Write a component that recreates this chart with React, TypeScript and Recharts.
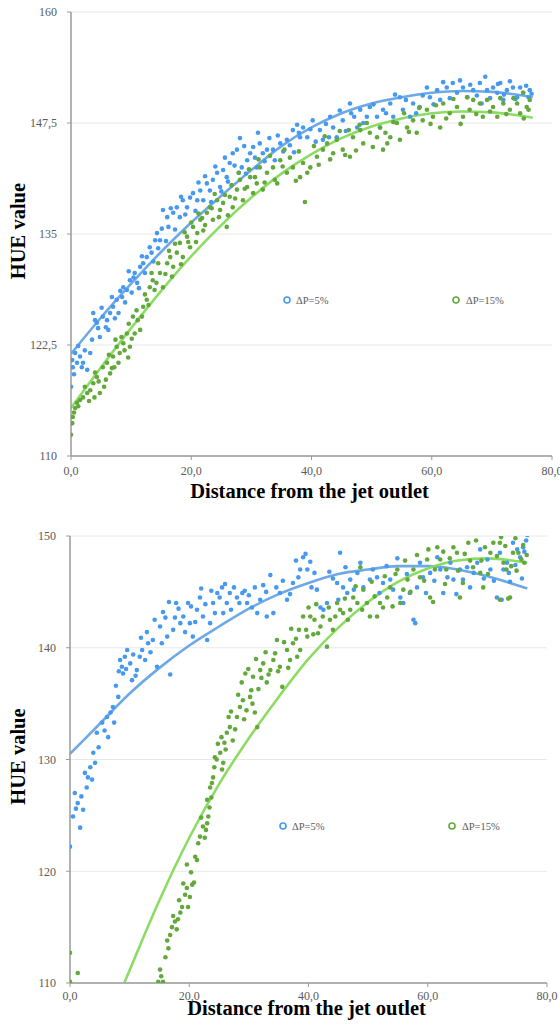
import React from 'react';
import { ComposedChart, Scatter, Line, XAxis, YAxis, CartesianGrid, Legend } from 'recharts';

const BLUE_DOT = '#4699ee';
const BLUE_LINE = '#5ea0e4';
const GREEN_DOT = '#62a83b';
const GREEN_LINE = '#86da5b';

const xTicks = [0, 20, 40, 60, 80];
const topYTicks = [110, 122.5, 135, 147.5, 160];
const botYTicks = [110, 120, 130, 140, 150];
const seriesNames = ['ΔP=5%', 'ΔP=15%'];
const xTitle = 'Distance from the jet outlet';
const yTitle = 'HUE value';

// ---- Top panel scatter ----
const top5: [number, number][] = [
  [0, 117.8], [0.2, 120.8], [0.3, 120.0], [0.7, 121.6], [1, 120.5], [1.5, 121.2], [1.8, 120.0], [2, 120.5], [2.7, 119.7], [3.2, 121.6],
  [3.7, 126.1], [4, 125.3], [4.3, 125], [4.8, 123.4], [5.3, 125.7], [6, 125.3], [6.5, 126.1], [6.2, 124.2], [7, 126.8], [7.6, 127.6],
  [7.9, 126.1], [8.5, 127.9], [8.7, 129.0], [9.3, 128.7], [9.8, 129.8], [10.1, 128.4], [10.6, 130.6], [11, 129.5], [11.5, 131.3], [12, 131.7],
  [12.6, 132.4], [13.1, 133.5], [13.4, 132.9], [14, 134.3], [14.3, 135.1], [14.8, 134.3], [15.3, 137.7], [16, 136.9], [16.2, 135.8], [17, 137.4],
  [17.6, 138], [18.1, 136.9], [18.6, 138.8], [19.3, 138], [20.3, 139.6], [21, 138.8], [21.5, 139.9], [22, 138.8], [22.6, 140.7], [23.1, 139.9],
  [23.6, 141.1], [24.3, 141.9], [24.8, 140.3], [25.3, 142.2], [25.9, 141.4], [26.4, 143], [26.9, 144.1], [27.6, 144.5], [28.1, 145.8], [28.4, 142.5],
  [29.3, 143.3], [29.8, 144.1], [30.3, 144.8], [30.9, 142.5], [31.4, 145.2], [31.9, 144.1], [32.6, 144.5], [33.6, 144.5], [34.8, 145.2], [35.9, 145.6],
  [36.9, 146.7], [38.1, 145.9], [38.6, 147.0], [37.6, 147.3], [39.3, 145.9], [40.2, 147.8], [41.4, 146.7], [41.9, 145.6], [43.1, 148.2], [43.6, 147],
  [44.2, 145.9], [45.2, 147.8], [46.4, 149.7], [46.6, 148.6], [47.6, 147], [48.1, 149], [49.2, 148.2], [49.7, 149.3], [50.9, 148.2], [51.4, 147],
  [51.9, 149], [53.1, 149.7], [53.6, 148.2], [54.7, 150.4], [55.2, 149], [56.4, 148.2], [56.9, 149.7], [58, 149.3], [59.2, 151.5], [59.7, 150.4],
  [60.9, 151.2], [61.4, 150.1], [62.5, 151.5], [63.5, 152], [64.2, 150.9], [65.2, 151.5], [65.9, 150.4], [66.9, 151.2], [68, 152], [68.9, 152.7],
  [69.2, 151.2], [70.2, 151.5], [70.9, 150.9], [71.4, 152], [72.5, 151.2], [73.5, 151.5], [74.2, 150.4], [74.7, 151.5], [75.2, 150.9], [76.3, 151.2],
  [76.1, 150.4], [71.9, 150.1], [68.3, 149.7],
  [0.5, 119.2], [1.2, 122.4], [2.3, 121.9], [3.5, 123.1], [4.5, 124.4], [5.1, 126.7], [5.8, 124.5], [6.8, 127.9], [7.3, 125.5], [8.2, 128.6],
  [9, 127.3], [9.6, 130.8], [10.4, 130.1], [11.3, 128.9], [11.8, 132.5], [12.3, 130.6], [13.7, 131.9], [14.5, 133.4], [15.1, 135.6], [15.8, 134.2],
  [16.6, 137.9], [17.3, 135.5], [18.3, 139.2], [19, 137.2], [19.8, 139.1], [20.7, 137.6], [21.2, 140.8], [22.3, 141.5], [23.3, 138.6], [24, 142.6],
  [25, 139.8], [25.6, 143.6], [26.1, 140.9], [27.2, 142.7], [27.9, 141.9], [28.8, 144.9], [29.1, 141.8], [30.6, 143.6], [31.1, 146.4], [32.2, 143.2],
  [33, 145.8], [33.9, 143.3], [34.4, 146.1], [35.3, 144.3], [36.4, 145], [37.1, 144.2], [37.9, 146.4], [39.8, 146.8], [40.7, 145.4], [42.4, 147.4],
  [42.9, 145.9], [44.7, 148.9], [45.7, 146.6], [47.1, 148.2], [48.6, 147.5], [50.3, 149.6], [52.4, 148.6], [53.9, 150.7], [55.7, 150.1], [57.4, 148.6],
  [58.5, 150.6], [60.3, 149.6], [61.9, 152.1], [63, 150.3], [64.7, 152.3], [66.4, 151.8], [67.5, 150.6], [69.7, 150.3], [71, 151.9], [72, 150.7],
  [73, 152.2], [73.9, 150.2], [75.7, 151.7], [76.6, 150.8],
];

const top15: [number, number][] = [
  [0, 112.4], [0.2, 113.7], [0.3, 114.4], [0.7, 115.4], [1, 116], [1.5, 116.3], [2, 116.6], [2.7, 117.1], [3.2, 117.4], [3.7, 118.2],
  [3.9, 116.6], [4.3, 118.9], [4.8, 117.1], [5.3, 120], [5.5, 117.8], [6, 120.5], [6.5, 119.3], [7, 121.2], [7.2, 120], [7.6, 122.3],
  [7.9, 120.5], [8.1, 121.6], [8.7, 122.7], [9.3, 123.8], [9.5, 121.1], [9.8, 122.3], [10.3, 125.7], [10.6, 123.8], [11.1, 125.3], [11.5, 124.2],
  [12, 126.8], [12.6, 127.6], [13.1, 129], [13.6, 129.8], [13.9, 128.7], [14.8, 130.6], [15.3, 129], [16, 131.7], [16.5, 132.4], [17, 131.3],
  [17.6, 132.9], [18.1, 134], [18.6, 132.4], [19.3, 134.7], [19.8, 133.5], [20.3, 135.8], [21, 135.1], [21.5, 136.6], [22, 135.4], [22.6, 137.4],
  [23.1, 138], [23.6, 136.6], [24.3, 138.8], [24.8, 137.7], [25.3, 138.5], [25.9, 135.8], [26.4, 139.2], [26.9, 138], [27.6, 140], [28.1, 141.1],
  [28.6, 138.8], [29.3, 140.3], [29.8, 141.4], [30.3, 139.6], [30.9, 140.7], [31.4, 142.5], [31.9, 140], [32.6, 141.9], [33.6, 142.5], [34.3, 140.7],
  [34.8, 143.3], [35.9, 141.9], [36.9, 142.5], [38.1, 141.4], [38.9, 138.6], [38.6, 143], [39.3, 141.9], [39.8, 142.5], [40.9, 143.7], [41.9, 144.5],
  [42.6, 145.2], [43.6, 144.1], [44.2, 145.6], [45.2, 144.5], [46.4, 143.7], [46.9, 145.9], [48.1, 146.7], [48.6, 145.2], [49.7, 146.4], [50.2, 144.8],
  [50.9, 145.9], [51.9, 144.5], [52.6, 145.2], [53.1, 145.9], [54.2, 147.5], [54.7, 145.6], [55.9, 147], [56.9, 147.8], [57.5, 146.4], [58.5, 147.8],
  [59.2, 149], [60.2, 148.2], [61.4, 147], [61.9, 149.7], [63, 148.6], [64.2, 149.3], [65.2, 148.2], [65.9, 150.4], [66.9, 150.1], [68, 149.7],
  [68.5, 148.2], [69.2, 150.1], [70.2, 149.3], [70.9, 148.2], [71.9, 149.7], [73, 149], [74.2, 149.7], [74.7, 148.6], [75.8, 149.3], [76.3, 150.1],
  [75.2, 150.9],
  [0.5, 114.9], [1.2, 115.6], [2.3, 117.8], [3, 116.2], [4, 119.4], [4.6, 118.4], [5.8, 118.6], [6.3, 121.4], [6.8, 119.9], [7.4, 123.1],
  [8.4, 123.4], [8.9, 121.9], [9.6, 124.9], [10.1, 123.2], [10.9, 126.4], [11.8, 125.7], [12.3, 128.2], [12.9, 127.0], [13.4, 130.6], [14.2, 129.5],
  [14.5, 131.7], [15.7, 130.5], [16.3, 133.1], [16.8, 130.2], [17.3, 133.9], [18.3, 131.6], [18.9, 135.2], [19.5, 134.1], [20.0, 136.3], [20.8, 134.1],
  [21.2, 137.3], [21.8, 136.8], [22.3, 136.0], [23.4, 137.9], [23.9, 139.5], [24.6, 136.9], [25.6, 139.4], [26.1, 137.1], [26.7, 140.5], [27.3, 139.0],
  [27.9, 141.9], [28.9, 140.1], [29.6, 142.3], [30.6, 141.4], [31.2, 143.4], [32.2, 140.8], [33.1, 143.8], [33.9, 141.1], [35.2, 142.6], [35.5, 144.5],
  [36.4, 143.6], [37.4, 141.0], [37.9, 144.3], [40.4, 144.9], [41.2, 142.8], [42.2, 146.0], [43.1, 143.4], [44.7, 146.6], [45.6, 143.9], [46.2, 146.7],
  [47.4, 144.4], [48.0, 147.3], [49.2, 147.5], [51.4, 147.0], [52.3, 146.4], [53.6, 147.6], [55.4, 148.6], [56.2, 146.5], [57.9, 149.2], [59.8, 147.4],
  [60.7, 149.5], [62.4, 148.0], [63.6, 150.2], [64.8, 147.4], [66.3, 149.0], [67.4, 148.5], [69.7, 148.8], [71.4, 150.3], [72.4, 148.5], [73.6, 150.3],
  [75.3, 148.0], [76.1, 149.0],
];

// ---- Top panel trend lines ----
const topTrend5: [number, number][] = [
  [0, 121.5], [5, 125.6], [10, 129.4], [15, 133.0], [20, 136.3], [25, 139.3], [30, 142.2], [35, 144.9], [40, 147.0],
  [45, 148.6], [50, 149.7], [55, 150.4], [60, 150.9], [65, 151.1], [70, 151.0], [76.8, 150.4],
];
const topTrend15: [number, number][] = [
  [0, 115.4], [5, 120.0], [10, 124.4], [15, 128.6], [20, 132.5], [25, 136.0], [30, 139.1], [35, 141.8], [40, 144.0],
  [45, 145.8], [50, 147.1], [55, 148.0], [60, 148.6], [65, 148.8], [70, 148.7], [76.8, 148.1],
];

// ---- Bottom panel scatter ----
const bot5: [number, number][] = [
  [0, 122.2], [0.5, 124.9], [1.7, 123.9], [0.8, 127], [1.3, 126.1], [2.2, 125.5], [2.8, 127.5], [3.4, 129.3], [3.9, 130.6], [4.2, 129.7],
  [3, 128.4], [4.5, 132.4], [5.4, 133.3], [6.2, 133.8], [6.4, 132.0], [7.2, 134.7], [7.4, 133.3], [8.1, 135.6], [8.4, 138.9], [8.7, 138.3],
  [8.9, 137.7], [9.6, 139.8], [9.2, 139.2], [10.1, 138.6], [10.4, 137.1], [11.2, 138], [11.7, 139.2], [12.1, 139.8], [12.6, 138.9], [13.1, 140.4],
  [13.9, 140.7], [14.6, 138.3], [15.1, 141.9], [15.6, 143.2], [16.3, 141], [16.8, 137.6], [17.3, 141.6], [17.8, 144], [18.5, 142.2], [19, 142.8],
  [19.8, 144], [20.1, 142.2], [20.6, 141], [21.3, 143.4], [21.8, 144.5], [22.3, 142.8], [23, 140.7], [23.5, 142.2], [24, 144], [24.7, 144.9],
  [25.5, 145.4], [25.7, 143.1], [26.3, 144], [26.8, 144.9], [28, 144.5], [28.9, 144.9], [29.7, 144], [30.5, 143.6], [31.4, 143.1], [32.4, 145.6],
  [33.6, 146.5], [34.1, 143.1], [35.2, 144.9], [36.4, 144.3], [37.4, 145.8], [38.6, 147], [33, 142.8], [39.1, 148.1], [40.3, 147.7], [39.8, 147],
  [41, 146.7], [40.5, 145.4], [41.4, 145.2], [45.3, 148.5], [44.1, 146.2], [44.8, 145.8], [45.8, 145.4], [46.5, 144.9], [42, 143.6], [42.5, 143.4],
  [43.1, 144], [45.0, 144.3], [47, 146.1], [48.2, 146.7], [49.2, 145.4], [50.3, 146.1], [51.5, 146.3], [52.5, 145.8], [53.7, 146.1], [54.9, 148],
  [54.2, 145.2], [55.4, 144.5], [55.9, 144], [57, 144.9], [57.6, 142.5], [57.9, 142.2], [58.2, 145.4], [59.2, 146.3], [60.4, 146.7], [61.6, 148.1],
  [62.1, 147], [62.6, 144.9], [63.3, 146.3], [64.3, 146.1], [65.4, 147], [66.6, 147.2], [67.1, 145.4], [68.3, 147.6], [68.8, 148.8], [70, 147.9],
  [70.5, 147], [71.6, 144.5], [72.1, 148.5], [72.7, 147], [72.4, 144.3], [73.3, 147.6], [73.8, 145.9], [74.3, 149.4], [75, 148.8], [75.5, 148.1],
  [76, 149], [76.7, 150.1], [76.2, 148.6],
  [1, 125.6], [1.9, 126.7], [2.5, 128.8], [3.7, 128.2], [4.8, 131.1], [5.8, 132.6], [6.8, 134.2], [7.7, 136.6], [8.2, 137.9], [9.4, 138.1],
  [10.6, 139.4], [11.0, 137.5], [11.9, 140.9], [12.9, 141.4], [13.5, 139.6], [14.2, 142.5], [15.4, 140.4], [16.0, 142.7], [16.6, 144.1], [17.6, 142.7],
  [18.2, 143.5], [19.3, 141.4], [20.3, 143.7], [21.0, 142.3], [22.0, 145.3], [22.7, 143.9], [23.7, 145.1], [24.3, 143.1], [25.1, 144.5], [26.0, 145.7],
  [27.0, 143.4], [27.5, 145.4], [28.4, 144.0], [29.3, 145.1], [30.0, 144.7], [31.0, 145.4], [31.9, 144.3], [32.9, 145.0], [34.6, 145.4], [35.7, 146.0],
  [36.9, 144.8], [37.9, 147.8], [38.3, 146.3], [39.5, 148.4], [43.5, 146.8], [46.2, 147.2], [47.6, 145.2], [48.7, 147.6], [50.8, 147.0], [51.9, 144.9],
  [53.1, 147.3], [56.5, 146.6], [58.7, 147.6], [59.7, 144.9], [61.1, 146.0], [63.8, 147.6], [64.8, 144.8], [65.9, 146.1], [67.7, 146.7], [69.4, 146.2],
  [71.1, 146.0], [73.6, 146.7], [74.7, 147.4], [75.8, 146.2], [76.5, 149.6],
];

const bot15: [number, number][] = [
  [0, 112.7], [0, 110.1], [1.3, 110.9], [15.1, 111.2], [15.3, 110.6], [14.8, 110.1], [15.6, 110.1], [16.3, 113.8], [16.5, 113.1], [17.1, 115],
  [17.6, 115.5], [17.9, 114.8], [18.5, 116.3], [18.8, 116.8], [19.3, 117.9], [19.6, 118.5], [20.1, 117.7], [19.8, 116.8], [20.5, 118.8], [20.8, 119],
  [19.6, 120.6], [21, 121.3], [21.3, 121], [21.8, 123.1], [22.3, 124], [23, 124.3], [22.8, 123.7], [23.2, 124.9], [23.4, 125.7], [23.5, 127.5],
  [23.8, 127.9], [24, 128.4], [24.3, 130.2], [24.6, 130], [25.2, 130.6], [25.5, 129.1], [25.7, 129.7], [25.9, 131.5], [26.3, 132.4], [26.8, 132.9],
  [27.3, 131.7], [28, 133.8], [28.5, 134.7], [29, 135.3], [29.4, 137.7], [29.6, 134.4], [30.2, 135.6], [30.4, 136.2], [30.7, 137.4], [31, 134.2],
  [31.4, 132.9], [31.9, 138], [32.4, 138.6], [33, 136.9], [33.6, 138], [34.1, 138.9], [34.7, 140.7], [35.2, 138.3], [35.6, 136.5], [36.4, 139.8],
  [36.9, 138.9], [37.4, 140.4], [38.1, 139.2], [38.6, 139.8], [39.8, 141], [39.1, 142.8], [40.3, 142.8], [39.6, 141.6], [41, 142.5], [41.6, 141.3],
  [42, 141.9], [42.4, 142.8], [43.1, 140.1], [43.6, 142.5], [44.1, 141.6], [44.8, 144], [45.3, 143.4], [45.8, 143.1], [47, 143.4], [47.5, 144.5],
  [48.2, 144], [49.2, 145.2], [48.7, 147.2], [49.8, 144], [50.3, 142.8], [51.5, 142.8], [52, 144], [52.5, 143.6], [53.2, 144.5], [53.7, 145.4],
  [54.9, 147], [55.4, 144], [55.9, 145.2], [56.6, 146.1], [57.6, 147], [58.7, 146.3], [59.9, 147.9], [60.4, 144.5], [60.9, 144.1], [61.6, 149],
  [62.1, 147.9], [62.6, 148.6], [63.1, 147], [64.3, 149], [64.9, 148.5], [65.4, 144.5], [65.9, 145.8], [66.8, 149.4], [67.6, 147.2], [68.8, 146.7],
  [69.3, 145.4], [69.6, 149], [70.5, 148.5], [71, 149.4], [72.1, 149.4], [72.3, 149.9], [72.7, 147.6], [73.2, 147], [73.8, 144.5], [74.3, 148.5],
  [74.7, 149.8], [75.2, 148.5], [75.7, 147.9], [76.2, 147.6], [72.1, 144.3], [73.5, 144.4],
  [16.0, 112.3], [16.8, 114.3], [17.3, 116.0], [18.1, 115.7], [18.3, 117.4], [19.0, 118.9], [20.3, 119.9], [21.5, 122.5], [22.0, 124.8], [22.6, 123.0],
  [23.0, 126.4], [23.7, 126.6], [24.2, 129.3], [24.8, 131.4], [25.4, 132.0], [26.1, 130.9], [26.6, 133.8], [27.0, 134.3], [27.7, 132.7], [28.2, 135.8],
  [28.8, 136.9], [29.2, 133.6], [29.9, 138.1], [30.6, 135.0], [31.2, 139.0], [31.6, 136.3], [32.1, 137.3], [32.8, 139.6], [33.3, 137.6], [34.4, 139.5],
  [34.9, 137.9], [35.9, 140.5], [36.6, 138.2], [37.1, 141.7], [37.9, 140.8], [38.4, 141.6], [40.0, 143.6], [40.8, 141.2], [41.3, 143.9], [43.4, 143.6],
  [44.5, 142.8], [46.1, 144.4], [46.6, 142.5], [47.9, 145.5], [49.0, 143.4], [50.6, 145.9], [51.1, 144.6], [52.8, 146.4], [54.1, 143.7], [54.6, 146.6],
  [56.2, 147.8], [57.1, 145.0], [58.2, 148.3], [59.4, 146.0], [60.1, 148.8], [61.2, 147.0], [62.9, 145.7], [63.7, 148.0], [65.1, 146.9], [66.2, 148.4],
  [67.1, 147.8], [68.1, 149.6], [69.0, 147.8], [70.1, 146.6], [71.6, 148.2], [73.0, 149.1], [74.0, 147.3], [74.9, 146.9], [76.0, 149.2], [76.6, 148.3],
];

// ---- Bottom panel trend lines ----
const botTrend5: [number, number][] = [
  [0, 130.5], [5, 133.2], [10, 135.9], [15, 138.2], [20, 140.2], [25, 141.9], [30, 143.5], [35, 144.8], [40, 145.8],
  [45, 146.6], [50, 147.0], [55, 147.3], [60, 147.3], [65, 147.0], [70, 146.4], [76.7, 145.3],
];
const botTrend15: [number, number][] = [
  [9.1, 110.0], [12, 113.7], [15, 117.4], [20, 123.0], [25, 127.8], [30, 131.9], [35, 135.6], [40, 139.0],
  [45, 141.8], [50, 144.1], [55, 145.9], [60, 147.1], [65, 147.8], [70, 148.0], [76.7, 147.6],
];

const toPts = (arr: [number, number][]) => arr.map(([x, y]) => ({ x, y }));
const fmtY = (v: number) => String(v).replace('.', ',');
const fmtX = (v: number) => v.toFixed(1).replace('.', ',');

const dotShape = (color: string) => (props: any) =>
  props.cx == null ? null : <circle cx={props.cx} cy={props.cy} r={2.3} fill={color} />;

const tickStyle = { fontSize: 12, fill: '#5a5a5a', fontFamily: '"Liberation Serif", "Times New Roman", serif' };
const titleStyle: React.CSSProperties = {
  fontFamily: '"Liberation Serif", "Times New Roman", serif',
  fontWeight: 700,
  fontSize: 20.5,
  fill: '#000',
};

const LegendContent = (props: any) => {
  const items = (props.payload || [])
    .filter((p: any) => p.type !== 'none' && seriesNames.indexOf(p.value) >= 0)
    .sort((a: any, b: any) => seriesNames.indexOf(a.value) - seriesNames.indexOf(b.value));
  return (
    <div style={{ position: 'relative', height: 14, width: 260 }}>
      {items.map((it: any, i: number) => (
        <div
          key={i}
          style={{ position: 'absolute', left: i * 169, top: 0, display: 'flex', alignItems: 'center', height: 14 }}
        >
          <svg width={10} height={10} style={{ display: 'block' }}>
            <circle cx={5} cy={5} r={3} fill="none" stroke={it.color} strokeWidth={1.6} />
          </svg>
          <span
            style={{
              marginLeft: i === 0 ? 4 : 5,
              fontFamily: '"Liberation Serif", "Times New Roman", serif',
              fontSize: 10.5,
              color: '#5a5a5a',
              whiteSpace: 'nowrap',
            }}
          >
            {it.value}
          </span>
        </div>
      ))}
    </div>
  );
};

type PanelProps = {
  height: number;
  margin: { top: number; right: number; left: number; bottom: number };
  yAxisWidth: number;
  xAxisHeight: number;
  yDomain: [number, number];
  yTicks: number[];
  s5: [number, number][];
  s15: [number, number][];
  t5: [number, number][];
  t15: [number, number][];
  legendTop: number;
  legendLeft: number;
  xTitleDy: number;
  xTickMargin: number;
};

function Panel(p: PanelProps) {
  return (
    <ComposedChart width={560} height={p.height} margin={p.margin}>
      <CartesianGrid horizontal vertical={false} stroke="#e8e8e8" strokeWidth={1} />
      <XAxis
        type="number"
        dataKey="x"
        domain={[0, 80]}
        ticks={xTicks}
        interval={0}
        tickFormatter={fmtX}
        height={p.xAxisHeight}
        axisLine={{ stroke: '#9a9a9a', strokeWidth: 1.5 }}
        tickLine={{ stroke: '#9a9a9a' }}
        tickSize={4}
        tickMargin={p.xTickMargin}
        tick={tickStyle}
        allowDataOverflow
        label={(lp: any) => {
          const vb = lp.viewBox || {};
          return (
            <text x={vb.x + vb.width / 2 - 2} y={vb.y + p.xTitleDy} textAnchor="middle" style={titleStyle}>
              {xTitle}
            </text>
          );
        }}
      />
      <YAxis
        type="number"
        dataKey="y"
        domain={p.yDomain}
        ticks={p.yTicks}
        interval={0}
        tickFormatter={fmtY}
        width={p.yAxisWidth}
        axisLine={{ stroke: '#9a9a9a', strokeWidth: 1.5 }}
        tickLine={{ stroke: '#9a9a9a' }}
        tickSize={4}
        tickMargin={10}
        tick={tickStyle}
        allowDataOverflow
        label={(lp: any) => {
          const vb = lp.viewBox || {};
          const cx = vb.x + 25;
          const cy = vb.y + vb.height / 2 - 3;
          return (
            <text x={cx} y={cy} textAnchor="middle" transform={`rotate(-90 ${cx} ${cy})`} style={titleStyle}>
              {yTitle}
            </text>
          );
        }}
      />
      <Legend
        layout="horizontal"
        verticalAlign="middle"
        align="center"
        wrapperStyle={{ position: 'absolute', top: p.legendTop, left: p.legendLeft, width: 260 }}
        content={<LegendContent />}
      />
      <Scatter
        name={seriesNames[0]}
        data={toPts(p.s5)}
        dataKey="y"
        fill={BLUE_DOT}
        stroke={BLUE_DOT}
        shape={dotShape(BLUE_DOT)}
        isAnimationActive={false}
      />
      <Scatter
        name={seriesNames[1]}
        data={toPts(p.s15)}
        dataKey="y"
        fill={GREEN_DOT}
        stroke={GREEN_DOT}
        shape={dotShape(GREEN_DOT)}
        isAnimationActive={false}
      />
      <Line
        data={toPts(p.t5)}
        dataKey="y"
        type="monotone"
        stroke={BLUE_LINE}
        strokeWidth={2.6}
        strokeOpacity={0.9}
        dot={false}
        activeDot={false}
        legendType="none"
        isAnimationActive={false}
      />
      <Line
        data={toPts(p.t15)}
        dataKey="y"
        type="monotone"
        stroke={GREEN_LINE}
        strokeWidth={2.6}
        strokeOpacity={0.95}
        dot={false}
        activeDot={false}
        legendType="none"
        isAnimationActive={false}
      />
    </ComposedChart>
  );
}

export default function App() {
  return (
    <div style={{ position: 'absolute', left: 0, top: 0, width: 560, height: 1025, background: '#fff', overflow: 'hidden' }}>
      <div style={{ position: 'absolute', left: 0, top: 0 }}>
        <Panel
          height={506}
          margin={{ top: 12, right: 8, left: 0, bottom: 6 }}
          yAxisWidth={71}
          xAxisHeight={44}
          yDomain={[110, 160]}
          yTicks={topYTicks}
          s5={top5}
          s15={top15}
          t5={topTrend5}
          t15={topTrend15}
          legendTop={293}
          legendLeft={282}
          xTitleDy={42}
          xTickMargin={6}
        />
      </div>
      <div style={{ position: 'absolute', left: 0, top: 500 }}>
        <Panel
          height={525}
          margin={{ top: 36, right: 13, left: 0, bottom: 0 }}
          yAxisWidth={70}
          xAxisHeight={42}
          yDomain={[110, 150]}
          yTicks={botYTicks}
          s5={bot5}
          s15={bot15}
          t5={botTrend5}
          t15={botTrend15}
          legendTop={319}
          legendLeft={278}
          xTitleDy={32}
          xTickMargin={4}
        />
      </div>
    </div>
  );
}
